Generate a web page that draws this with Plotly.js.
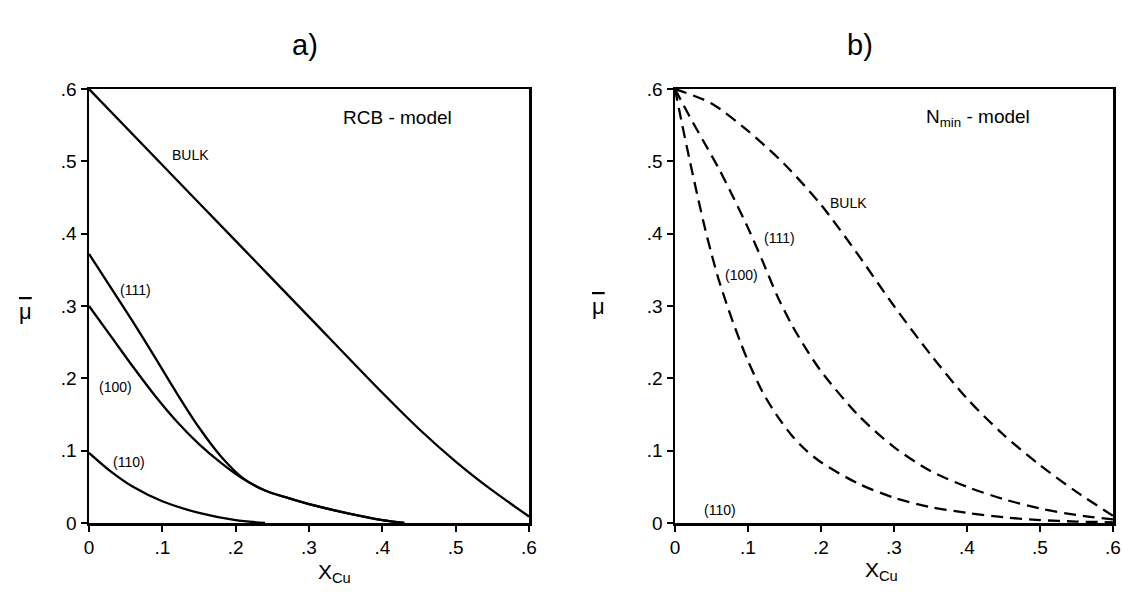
<!DOCTYPE html>
<html>
<head>
<meta charset="utf-8">
<script src="https://cdn.plot.ly/plotly-3.0.1.min.js"></script>
<style>html,body{margin:0;padding:0;background:#fff;}#chart{width:1123px;height:610px;}</style>
</head>
<body>
<div id="chart"></div>
<script>
// ---- Data ----
// Panel a) RCB model
const rcbBulkX = [0, 0.1, 0.2, 0.3, 0.4, 0.45, 0.5, 0.55, 0.6];
const rcbBulkY = [0.6, 0.495, 0.39, 0.285, 0.18, 0.13, 0.085, 0.045, 0.009];
const rcb111X = [0, 0.03, 0.06, 0.09, 0.12, 0.15, 0.18, 0.21, 0.24, 0.27, 0.3, 0.35, 0.4, 0.43];
const rcb111Y = [0.372, 0.325, 0.278, 0.229, 0.179, 0.132, 0.092, 0.062, 0.045, 0.035, 0.026, 0.014, 0.004, 0.0];
const rcb100X = [0, 0.03, 0.06, 0.09, 0.12, 0.15, 0.18, 0.21, 0.24, 0.27, 0.3, 0.35, 0.4, 0.43];
const rcb100Y = [0.3, 0.258, 0.216, 0.176, 0.14, 0.109, 0.083, 0.061, 0.045, 0.035, 0.026, 0.014, 0.004, 0.0];
const rcb110X = [0, 0.03, 0.06, 0.1, 0.15, 0.2, 0.24];
const rcb110Y = [0.097, 0.071, 0.05, 0.03, 0.014, 0.004, 0.0];

// Panel b) Nmin model
const nBulkX = [0, 0.05, 0.1, 0.15, 0.2, 0.25, 0.3, 0.35, 0.4, 0.45, 0.5, 0.55, 0.6];
const nBulkY = [0.6, 0.58, 0.542, 0.496, 0.44, 0.372, 0.3, 0.233, 0.172, 0.122, 0.08, 0.043, 0.01];
const n111X = [0, 0.02, 0.04, 0.06, 0.08, 0.1, 0.12, 0.14, 0.16, 0.18, 0.2, 0.25, 0.3, 0.35, 0.4, 0.45, 0.5, 0.55, 0.6];
const n111Y = [0.6, 0.562, 0.526, 0.49, 0.45, 0.408, 0.362, 0.314, 0.274, 0.24, 0.21, 0.15, 0.105, 0.072, 0.05, 0.033, 0.02, 0.011, 0.005];
const n100X = [0, 0.01, 0.02, 0.03, 0.04, 0.05, 0.06, 0.07, 0.08, 0.09, 0.1, 0.12, 0.14, 0.16, 0.18, 0.2, 0.25, 0.3, 0.35, 0.4, 0.45, 0.5, 0.55, 0.6];
const n100Y = [0.6, 0.55, 0.502, 0.456, 0.412, 0.372, 0.336, 0.305, 0.276, 0.249, 0.224, 0.181, 0.148, 0.121, 0.1, 0.084, 0.055, 0.035, 0.022, 0.014, 0.008, 0.004, 0.002, 0.001];

// Ticks
const tickVals = [0, 0.1, 0.2, 0.3, 0.4, 0.5, 0.6];
const tickText = ["0", ".1", ".2", ".3", ".4", ".5", ".6"];

// Curve labels
const labelsA = [
  {text: "BULK", x: 0.139, y: 0.509},
  {text: "(111)", x: 0.063, y: 0.322},
  {text: "(100)", x: 0.036, y: 0.188},
  {text: "(110)", x: 0.055, y: 0.084}
];
const labelsB = [
  {text: "BULK", x: 0.238, y: 0.443},
  {text: "(111)", x: 0.143, y: 0.394},
  {text: "(100)", x: 0.091, y: 0.343},
  {text: "(110)", x: 0.061, y: 0.018}
];

const FONT = "Liberation Sans, Arial, sans-serif";
const solid = {color: "#000", width: 2.3};
const dashed = {color: "#000", width: 2.3, dash: "12px,7px"};

const traces = [
  {x: rcbBulkX, y: rcbBulkY, xaxis: "x", yaxis: "y", mode: "lines", line: solid},
  {x: rcb111X, y: rcb111Y, xaxis: "x", yaxis: "y", mode: "lines", line: solid},
  {x: rcb100X, y: rcb100Y, xaxis: "x", yaxis: "y", mode: "lines", line: solid},
  {x: rcb110X, y: rcb110Y, xaxis: "x", yaxis: "y", mode: "lines", line: solid},
  {x: nBulkX, y: nBulkY, xaxis: "x2", yaxis: "y2", mode: "lines", line: dashed},
  {x: n111X, y: n111Y, xaxis: "x2", yaxis: "y2", mode: "lines", line: dashed},
  {x: n100X, y: n100Y, xaxis: "x2", yaxis: "y2", mode: "lines", line: dashed}
].map(t => { t.line = Object.assign({shape: "spline", smoothing: 0.8}, t.line); t.hoverinfo = "skip"; t.showlegend = false; return t; });

function axis(domain, anchor) {
  return {
    domain: domain, anchor: anchor, range: [0, 0.6],
    tickvals: tickVals, ticktext: tickText,
    showline: true, mirror: true, linecolor: "#000", linewidth: 2.5,
    ticks: "outside", ticklen: 6, tickwidth: 2, tickcolor: "#000",
    showgrid: false, zeroline: false, fixedrange: true,
    tickfont: {family: FONT, size: 19, color: "#000"}
  };
}

const ann = [];
labelsA.forEach(l => ann.push({xref: "x", yref: "y", x: l.x, y: l.y, text: l.text, showarrow: false, font: {family: FONT, size: 14, color: "#000"}}));
labelsB.forEach(l => ann.push({xref: "x2", yref: "y2", x: l.x, y: l.y, text: l.text, showarrow: false, font: {family: FONT, size: 14, color: "#000"}}));
ann.push({xref: "x", yref: "y", x: 0.42, y: 0.56, text: "RCB - model", showarrow: false, font: {family: FONT, size: 19, color: "#000"}});
ann.push({xref: "x2", yref: "y2", x: 0.415, y: 0.56, text: "N<sub>min</sub> - model", showarrow: false, font: {family: FONT, size: 19, color: "#000"}});
ann.push({xref: "paper", yref: "paper", x: 290/1123, y: (610-27)/610, text: "a)", showarrow: false, font: {family: FONT, size: 29, color: "#000"}});
ann.push({xref: "paper", yref: "paper", x: 875/1123, y: (610-27)/610, text: "b)", showarrow: false, font: {family: FONT, size: 29, color: "#000"}});
ann.push({xref: "paper", yref: "paper", x: 316/1123, y: (610-588)/610, text: "X<sub>Cu</sub>", showarrow: false, font: {family: FONT, size: 21, color: "#000"}});
ann.push({xref: "paper", yref: "paper", x: 900/1123, y: (610-586)/610, text: "X<sub>Cu</sub>", showarrow: false, font: {family: FONT, size: 21, color: "#000"}});
ann.push({xref: "paper", yref: "paper", x: 17/1123, y: (610-311)/610, text: "<span style=\"text-decoration:overline\">μ</span>", showarrow: false, font: {family: FONT, size: 22, color: "#000"}});
ann.push({xref: "paper", yref: "paper", x: 598/1123, y: (610-306)/610, text: "<span style=\"text-decoration:overline\">μ</span>", showarrow: false, font: {family: FONT, size: 22, color: "#000"}});

const layout = {
  width: 1123, height: 610,
  margin: {l: 0, r: 0, t: 0, b: 0},
  paper_bgcolor: "#fff", plot_bgcolor: "#fff",
  showlegend: false,
  xaxis: axis([89/1123, 529/1123], "y"),
  yaxis: axis([(610-523)/610, (610-89)/610], "x"),
  xaxis2: axis([675/1123, 1113/1123], "y2"),
  yaxis2: axis([(610-523)/610, (610-89)/610], "x2"),
  annotations: ann
};

Plotly.newPlot("chart", traces, layout, {staticPlot: true, displayModeBar: false});
</script>
</body>
</html>
